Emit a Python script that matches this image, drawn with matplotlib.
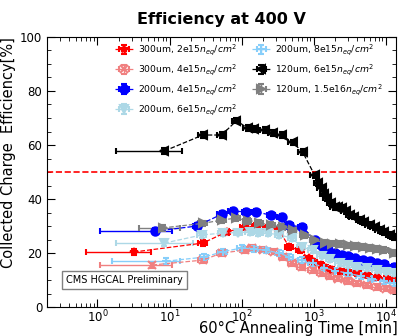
import matplotlib
matplotlib.use("Agg")
import matplotlib.pyplot as plt
import numpy as np

# annealing time [min] and efficiency [%] per sensor / fluence
t_300_2e15 = [3.2, 29, 62, 110, 160, 230, 330, 460, 650, 850, 1000, 1250, 1500, 1800, 2300, 3000, 4000, 5500, 7500, 10000, 13000]
e_300_2e15 = [20.4, 23.7, 27.8, 29.6, 30.0, 29.5, 28.5, 22.2, 21.1, 18.1, 16.7, 15.6, 14.5, 13.7, 13.2, 13.0, 12.6, 11.8, 11.1, 10.5, 10.0]

t_300_4e15 = [5.8, 29, 53, 110, 141, 200, 280, 380, 500, 680, 970, 1300, 1700, 2200, 3000, 4000, 5500, 7500, 10000, 13000]
e_300_4e15 = [15.6, 17.4, 20.0, 21.1, 21.9, 21.3, 20.5, 18.5, 16.3, 14.8, 13.7, 12.6, 11.5, 10.5, 9.6, 8.8, 8.0, 7.4, 6.8, 6.3]

t_200_4e15 = [6.2, 24, 53, 75, 117, 161, 260, 360, 460, 700, 1030, 1300, 1580, 2000, 2500, 3000, 3700, 4800, 6000, 7500, 9600, 13000]
e_200_4e15 = [28.1, 30.0, 34.4, 35.6, 35.2, 35.2, 34.0, 33.3, 30.4, 29.6, 24.8, 22.5, 21.1, 20.2, 19.3, 18.8, 18.1, 17.5, 17.0, 16.5, 15.9, 14.8]

t_200_6e15 = [8.5, 28, 55, 90, 130, 167, 230, 335, 500, 680, 970, 1300, 1700, 2300, 3000, 4000, 5500, 7500, 10000, 13000]
e_200_6e15 = [23.7, 26.7, 27.4, 27.6, 27.8, 27.4, 27.4, 26.7, 25.6, 22.2, 21.1, 19.0, 17.8, 16.3, 15.6, 15.0, 14.3, 13.7, 13.1, 12.6]

t_200_8e15 = [9, 30, 55, 100, 150, 220, 335, 460, 700, 970, 1400, 2000, 3000, 4500, 6500, 9500, 13000]
e_200_8e15 = [17.0, 18.5, 20.5, 21.9, 21.5, 21.0, 20.0, 18.5, 17.4, 16.3, 14.5, 13.5, 12.5, 11.5, 10.5, 9.5, 8.8]

t_120_6e15 = [8.5, 29, 53, 85, 121, 150, 210, 270, 360, 510, 705, 1030, 1150, 1300, 1400, 1550, 1750, 1950, 2200, 2500, 2800, 3200, 3600, 4400, 5000, 6000, 7000, 8300, 9500, 11500, 13000]
e_120_6e15 = [57.8, 63.7, 63.7, 69.0, 66.3, 66.0, 65.5, 64.4, 63.7, 61.0, 57.4, 48.9, 46.0, 44.0, 42.0, 40.4, 38.5, 37.0, 37.0, 36.7, 35.5, 34.0, 33.5, 32.2, 31.5, 30.4, 29.5, 28.5, 27.8, 26.7, 26.0]

t_120_15e16 = [8, 29, 53, 85, 121, 177, 260, 370, 510, 750, 1030, 1440, 1800, 2300, 3000, 3700, 4800, 6000, 7500, 9600, 13000]
e_120_15e16 = [29.3, 31.0, 32.2, 33.0, 31.9, 31.1, 30.4, 29.6, 28.5, 26.7, 24.8, 23.7, 23.5, 23.3, 22.9, 22.6, 22.2, 21.9, 21.5, 21.1, 20.0]

# horizontal range of the first point of each series [min]
first_lo = [0.7, 1.1, 1.1, 1.8, 1.6, 1.8, 3.8]
first_hi = [5.6, 11, 11, 21, 14, 15, 14]

labels = [r"300um, 2e15$n_{eq}/cm^2$", r"300um, 4e15$n_{eq}/cm^2$",
          r"200um, 4e15$n_{eq}/cm^2$", r"200um, 6e15$n_{eq}/cm^2$",
          r"200um, 8e15$n_{eq}/cm^2$", r"120um, 6e15$n_{eq}/cm^2$",
          r"120um, 1.5e16$n_{eq}/cm^2$"]
colors = ["red", "lightcoral", "blue", "lightblue", "lightskyblue", "black", "gray"]
markers = ["*", "x", "o", "v", "+", "<", ">"]

series = [(t_300_2e15, e_300_2e15), (t_300_4e15, e_300_4e15), (t_200_4e15, e_200_4e15),
          (t_200_6e15, e_200_6e15), (t_200_8e15, e_200_8e15), (t_120_6e15, e_120_6e15),
          (t_120_15e16, e_120_15e16)]

fig = plt.figure(figsize=(3.99, 3.36), dpi=100)
ax = fig.add_axes([0.118, 0.086, 0.875, 0.804])

for i, (t, e) in enumerate(series):
    t = np.array(t, dtype=float)
    e = np.array(e, dtype=float)
    xlo = t * 0.13
    xhi = t * 0.13
    xlo[0] = t[0] - first_lo[i]
    xhi[0] = first_hi[i] - t[0]
    ax.errorbar(t, e, xerr=[xlo, xhi], yerr=1.0, fmt=markers[i], ls="--", lw=0.9,
                color=colors[i], ms=6, mew=1.5, capsize=2.5, elinewidth=1.0,
                label=labels[i])

ax.axhline(50, color="red", ls="--", lw=1.2)

ax.set_xscale("log")
ax.set_xlim(0.2, 14000)
ax.set_ylim(0, 100)
ax.tick_params(which="both", direction="in", top=True, right=True, labelsize=8.5)
ax.tick_params(which="major", length=6)
ax.tick_params(which="minor", length=3)
ax.tick_params(axis="x", pad=1)
ax.set_yticks([0, 20, 40, 60, 80, 100])
ax.set_yticks(np.arange(0, 101, 5), minor=True)

ax.set_title("Efficiency at 400 V", fontsize=11.5, fontweight="bold", pad=9)
ax.set_ylabel("Collected Charge  Efficiency[%]", fontsize=10.5, loc="top")
ax.yaxis.set_label_coords(-0.09, 1.0)
ax.set_xlabel("60°C Annealing Time [min]", fontsize=10.5, loc="right")
ax.xaxis.set_label_coords(1.005, -0.05)

ax.text(0.055, 0.09, "CMS HGCAL Preliminary", transform=ax.transAxes, fontsize=7,
        bbox=dict(facecolor="white", edgecolor="gray", boxstyle="square,pad=0.4"))

ax.legend(loc="upper left", bbox_to_anchor=(0.17, 1.01), ncol=2, frameon=False,
          fontsize=6.7, columnspacing=1.6, handletextpad=0.5, labelspacing=0.55,
          handlelength=2.0)

fig.savefig("out.png", dpi=100)
